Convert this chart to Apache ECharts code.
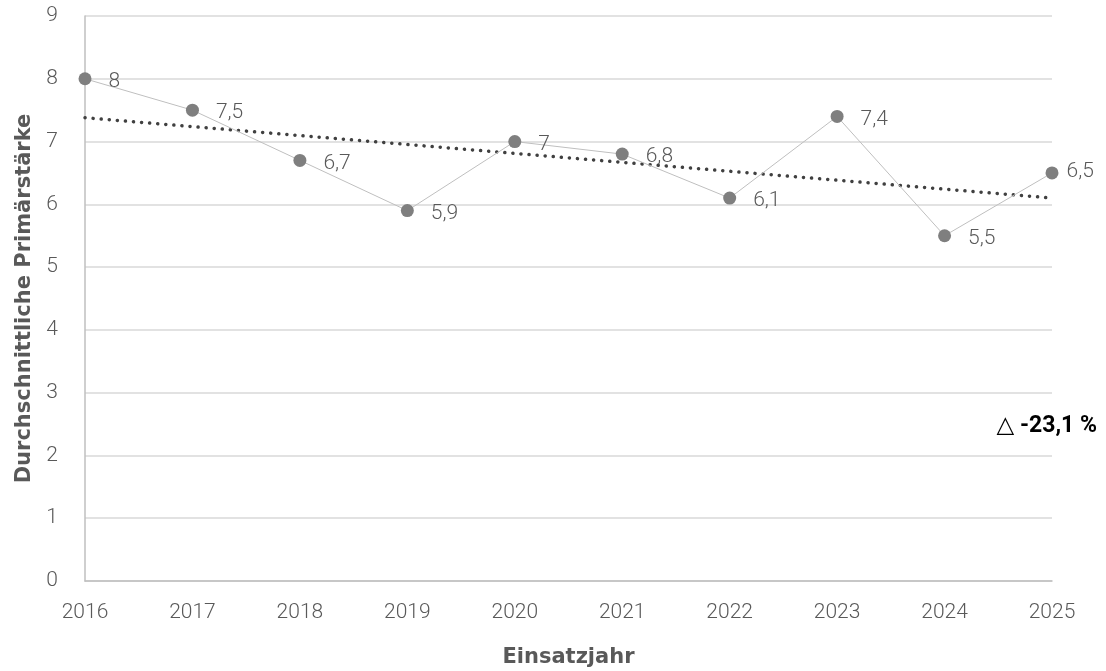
<!DOCTYPE html>
<html>
<head>
<meta charset="utf-8">
<script src="https://cdn.jsdelivr.net/npm/echarts@6/dist/echarts.min.js"></script>
<style>
  html, body { margin: 0; padding: 0; background: #fff; }
  #main { width: 1106px; height: 671px; }
</style>
</head>
<body>
<div id="main"></div>
<script>
// Daten
var jahre = ['2016', '2017', '2018', '2019', '2020', '2021', '2022', '2023', '2024', '2025'];
var staerke = [8, 7.5, 6.7, 5.9, 7, 6.8, 6.1, 7.4, 5.5, 6.5];
var trendJahre = ['2016', '2025'];
var trendWerte = [7.38, 6.1];
var yTicks = [0, 1, 2, 3, 4, 5, 6, 7, 8, 9];
var veraenderung = '\u25B3 -23,1 %';

var grau = '#595959';
var schrift = 'Roboto, "DejaVu Sans", sans-serif';
var titelSchrift = '"DejaVu Sans", sans-serif';

// letzter Punkt: Beschriftung naeher am Punkt, damit sie ins Bild passt
var punkte = staerke.map(function (v, i) {
    if (i === staerke.length - 1) {
        return { value: v, label: { distance: 8, offset: [0, -1] } };
    }
    return v;
});

var myChart = echarts.init(document.getElementById('main'));
var option = {
    animation: false,
    grid: {
        left: 85,
        right: 54,
        top: 16,
        bottom: 90,
        outerBoundsMode: 'none'
    },
    xAxis: {
        type: 'category',
        boundaryGap: false,
        data: jahre,
        name: 'Einsatzjahr',
        nameLocation: 'middle',
        nameGap: 66,
        nameTextStyle: { color: grau, fontSize: 21, fontWeight: 'bold', fontFamily: titelSchrift },
        axisLine: { lineStyle: { color: '#bfbfbf', width: 1.5 } },
        axisTick: { show: false },
        axisLabel: { color: grau, fontSize: 21, fontWeight: 300, fontFamily: schrift, margin: 21 }
    },
    yAxis: {
        type: 'value',
        min: yTicks[0],
        max: yTicks[yTicks.length - 1],
        interval: 1,
        name: 'Durchschnittliche Primärstärke',
        nameLocation: 'middle',
        nameGap: 46,
        nameTextStyle: { color: grau, fontSize: 21, fontWeight: 'bold', fontFamily: titelSchrift },
        axisLine: { show: true, lineStyle: { color: '#bfbfbf', width: 1.5 } },
        axisTick: { show: false },
        axisLabel: { color: grau, fontSize: 21, fontWeight: 300, fontFamily: schrift, margin: 27 },
        splitLine: { lineStyle: { color: '#d9d9d9', width: 1.5 } }
    },
    series: [
        {
            name: 'Primärstärke',
            type: 'line',
            data: punkte,
            symbol: 'circle',
            symbolSize: 13,
            itemStyle: { color: '#7f7f7f' },
            lineStyle: { color: '#bfbfbf', width: 1 },
            label: {
                show: true,
                position: 'right',
                distance: 17,
                offset: [0, 3],
                color: grau,
                fontSize: 21,
                fontWeight: 300,
                fontFamily: schrift,
                formatter: function (p) { return String(p.value).replace('.', ','); }
            },
            z: 3
        },
        {
            name: 'Trend',
            type: 'line',
            data: trendJahre.map(function (j, i) { return [j, trendWerte[i]]; }),
            symbol: 'none',
            silent: true,
            lineStyle: { color: '#404040', width: 3.5, type: [0.1, 8], cap: 'round' },
            z: 2
        }
    ],
    graphic: [
        {
            type: 'text',
            right: 9,
            top: 415,
            style: {
                text: veraenderung,
                fill: '#000',
                font: 'bold 23px ' + schrift
            }
        }
    ]
};
myChart.setOption(option);
</script>
</body>
</html>
